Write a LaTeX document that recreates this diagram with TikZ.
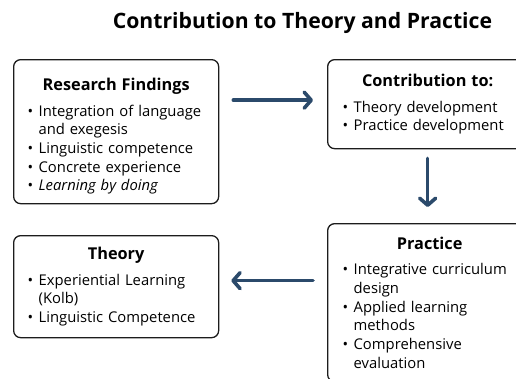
\documentclass[tikz,border=0pt]{standalone}
\usepackage{fontspec}
\setmainfont{Open Sans}
\usetikzlibrary{arrows.meta, positioning}
\definecolor{flowblue}{RGB}{43, 74, 107}
\definecolor{boxline}{RGB}{28, 28, 28}
\newcommand{\boxhead}[1]{\makebox[\linewidth]{\bfseries\fontsize{16.3}{20}\selectfont #1}\par\vspace{7pt}}
\newcommand{\bpoint}[1]{\par\hangindent=11pt\hangafter=1\noindent\makebox[11pt][l]{\textbullet}#1}

\begin{document}
\begin{tikzpicture}[x=1pt, y=-1pt,
  findbox/.style={draw=boxline, line width=1.3pt, rounded corners=7pt, anchor=north west,
    align=left, inner xsep=14pt, font=\fontsize{14.8}{18.7}\selectfont},
  flowarrow/.style={draw=flowblue, line width=3.6pt, line cap=round,
    -{Straight Barb[length=7pt, width=16pt, round]}}]
  \useasboundingbox (0,0) rectangle (516,378);
  \clip (0,0) rectangle (516,378);

  \node[font=\bfseries\fontsize{21.2}{25}\selectfont] (title) at (302.5,23) {Contribution to Theory and Practice};

  % boxes
  \node[findbox, minimum width=205pt, minimum height=144pt, text width=177pt] (findings) at (13,59) {
    \vspace*{3pt}
    \boxhead{Research Findings}
    \bpoint{Integration of language\newline and exegesis}
    \bpoint{Linguistic competence}
    \bpoint{Concrete experience}
    \bpoint{\itshape Learning by doing}\par
  };
  \node[findbox, minimum width=200pt, minimum height=89pt, text width=170pt, inner xsep=15pt] (contrib) at (327,59) {
    \boxhead{Contribution to:}
    \bpoint{Theory development}
    \bpoint{Practice development}\par
  };
  \node[findbox, minimum width=205pt, minimum height=102pt, text width=177pt] (theory) at (13,235) {
    \boxhead{Theory}
    \bpoint{Experiential Learning\newline (Kolb)}
    \bpoint{Linguistic Competence}\par
  };
  \node[findbox, minimum width=204pt, minimum height=158pt, text width=174pt, inner xsep=15pt] (practice) at (327,223) {
    \boxhead{Practice}
    \bpoint{Integrative curriculum\newline design}
    \bpoint{Applied learning\newline methods}
    \bpoint{Comprehensive\newline evaluation}\par
  };

  % arrows
  \draw[flowarrow] ([xshift=14pt, yshift=4pt]findings.east |- contrib.west) -- ([xshift=-14pt, yshift=4pt]contrib.west);
  \draw[flowarrow] ([yshift=-9pt]contrib.south) -- ([yshift=16pt]contrib.south |- practice.north);
  \draw[flowarrow] ([xshift=-14pt, yshift=6pt]practice.west |- theory.east) -- ([xshift=12pt, yshift=6pt]theory.east);
\end{tikzpicture}
\end{document}
